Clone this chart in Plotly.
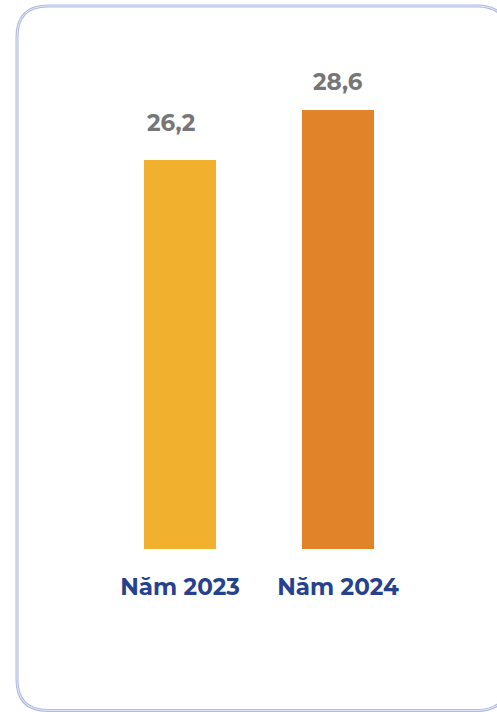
import plotly.graph_objects as go

categories = ["Năm 2023", "Năm 2024"]
values = [26.2, 28.6]
value_labels = ["26,2", "28,6"]
bar_colors = ["#F2B02F", "#E08329"]

W, H = 497, 712
L, R, T, B = 101, 80, 60, 163.3
pw, ph = W - L - R, H - T - B
y_range = [7.54, 31.0]

def px(x):
    return (x - L) / pw

def py(y):
    return (H - B - y) / ph

fig = go.Figure()
fig.add_trace(go.Bar(
    x=categories, y=values, marker=dict(color=bar_colors, line=dict(width=0)),
    width=0.456, hoverinfo="skip",
))

label_shift_x = [-9, 0]
label_shift_y = [37, 28.5]
for c, v, t, dx, dy in zip(categories, values, value_labels, label_shift_x, label_shift_y):
    fig.add_annotation(x=c, y=v, text=t, showarrow=False, xshift=dx, yshift=dy,
                       yanchor="middle",
                       font=dict(family="Montserrat, Open Sans, sans-serif", size=23,
                                 color="#767676", weight="bold"))

# rounded border
x0, x1, y0, y1, r = 17, 508, 6, 710, 31
path = (f"M {px(x0+r)} {py(y0)} L {px(x1-r)} {py(y0)} Q {px(x1)} {py(y0)} {px(x1)} {py(y0+r)} "
        f"L {px(x1)} {py(y1-r)} Q {px(x1)} {py(y1)} {px(x1-r)} {py(y1)} "
        f"L {px(x0+r)} {py(y1)} Q {px(x0)} {py(y1)} {px(x0)} {py(y1-r)} "
        f"L {px(x0)} {py(y0+r)} Q {px(x0)} {py(y0)} {px(x0+r)} {py(y0)} Z")
fig.add_shape(type="path", xref="paper", yref="paper", path=path,
              line=dict(color="#AEBBE0", width=3), layer="below")
fig.add_shape(type="path", xref="paper", yref="paper", path=path,
              line=dict(color="#E6EAF6", width=1), layer="below")

fig.update_layout(
    width=W, height=H, margin=dict(l=L, r=R, t=T, b=B),
    paper_bgcolor="white", plot_bgcolor="white", showlegend=False,
    xaxis=dict(range=[-0.5, 1.5], showgrid=False, zeroline=False, showline=False,
               ticks="outside", ticklen=17, tickcolor="rgba(0,0,0,0)",
               tickfont=dict(family="Montserrat, Open Sans, sans-serif", size=23,
                             color="#26428E", weight="bold")),
    yaxis=dict(range=y_range, visible=False, showgrid=False, zeroline=False),
)

fig.write_html("out.html")
